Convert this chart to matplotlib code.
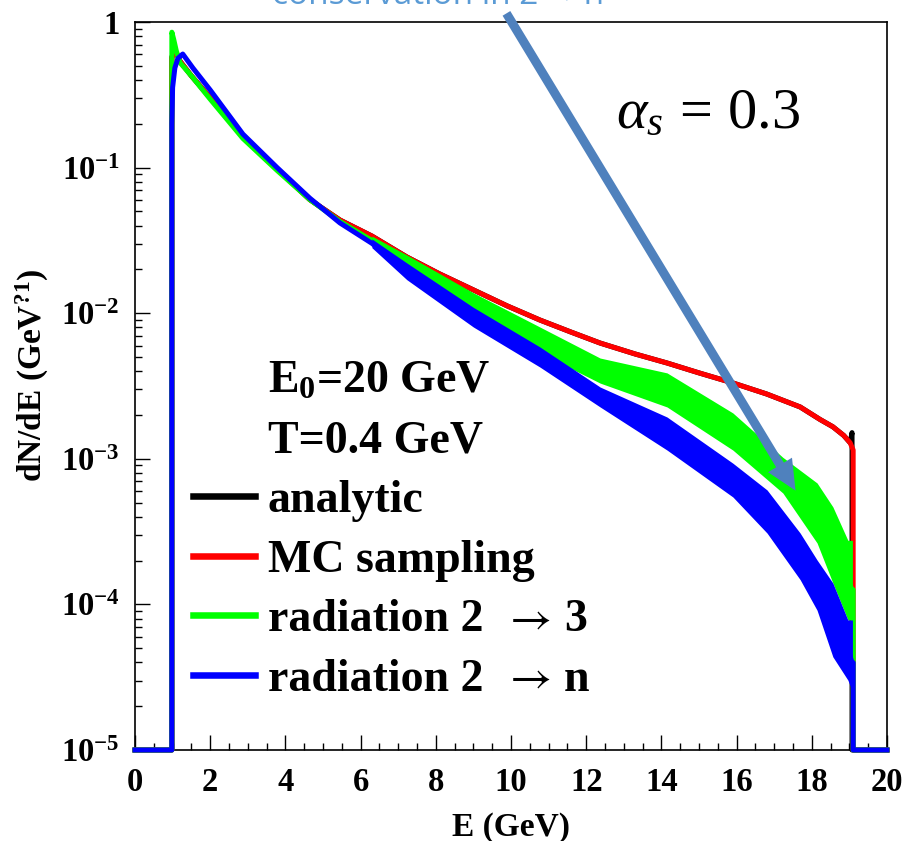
import matplotlib
matplotlib.use('Agg')
import matplotlib.pyplot as plt
import numpy as np
from matplotlib.lines import Line2D
from matplotlib.patches import FancyArrowPatch
from matplotlib.ticker import MultipleLocator, LogLocator, NullFormatter
from matplotlib.font_manager import FontProperties

plt.rcParams['mathtext.fontset'] = 'custom'
plt.rcParams['mathtext.rm'] = 'Liberation Serif'
plt.rcParams['mathtext.it'] = 'Liberation Serif:italic'
plt.rcParams['mathtext.bf'] = 'Liberation Serif:bold'
plt.rcParams['mathtext.fallback'] = 'stix'
plt.rcParams['font.family'] = ['Liberation Serif', 'DejaVu Serif']

# ---------------- data (log10 of dN/dE) ----------------
E_red = [0, 0.98, 0.98, 1.06, 1.2, 1.5, 2.0, 2.87, 3.78, 4.65, 5.45, 6.3, 7.23, 8.1, 9.0,
         9.9, 10.77, 11.6, 12.37, 13.3, 14.15, 15.0, 15.9, 16.8, 17.69, 18.22, 18.56,
         18.85, 19.02, 19.1, 19.1, 20]
red_log10 = [-5, -5, -0.25, -0.19, -0.27, -0.37, -0.52, -0.79, -1.01, -1.22, -1.36, -1.47,
             -1.614, -1.73, -1.84, -1.95, -2.047, -2.13, -2.205, -2.28, -2.342, -2.41,
             -2.479, -2.555, -2.644, -2.73, -2.78, -2.84, -2.89, -2.94, -5, -5]

E_analytic = [0, 0.98, 0.98, 1.06, 1.2, 1.5, 2.0, 2.87, 3.78, 4.65, 5.45, 6.3, 7.23, 8.1, 9.0,
              9.9, 10.77, 11.6, 12.37, 13.3, 14.15, 15.0, 15.9, 16.8, 17.69, 18.22, 18.56,
              18.85, 19.02, 19.07, 19.07, 20]
analytic_log10 = [-5, -5, -0.24, -0.19, -0.27, -0.37, -0.52, -0.79, -1.01, -1.22, -1.36,
                  -1.47, -1.614, -1.73, -1.84, -1.95, -2.047, -2.13, -2.205, -2.28, -2.342,
                  -2.41, -2.479, -2.555, -2.644, -2.73, -2.78, -2.84, -2.89, -2.82, -5, -5]

E_green = [0, 0.98, 0.98, 1.03, 1.1, 1.2, 1.5, 2.0, 2.87, 3.78, 4.65, 5.45, 6.3, 7.23, 8.1,
           9.0, 9.9, 10.77, 11.6, 12.37, 13.3, 14.15, 15.0, 15.9, 16.6, 17.23, 17.7, 18.14,
           18.56, 18.96, 19.07, 19.1, 19.1, 20]
green_log10 = [-5, -5, -0.07, -0.12, -0.2, -0.28, -0.37, -0.53, -0.8, -1.02, -1.22, -1.37,
               -1.50, -1.66, -1.80, -1.945, -2.06, -2.185, -2.27, -2.39, -2.45, -2.53, -2.66,
               -2.81, -2.96, -3.11, -3.2, -3.37, -3.59, -3.83, -3.9, -3.9, -5, -5]
E_green_band = [6.3, 7.23, 9.0, 10.77, 12.37, 14.15, 15.9, 17.23, 18.14, 18.56, 18.96, 19.08]
green_hi_log10 = [-1.47, -1.60, -1.86, -2.095, -2.308, -2.41, -2.685, -2.99, -3.166, -3.33,
                  -3.56, -3.56]
green_lo_log10 = [-1.53, -1.72, -2.03, -2.273, -2.48, -2.644, -2.94, -3.235, -3.578, -3.853,
                  -4.107, -4.107]

E_blue = [0, 0.98, 0.98, 1.0, 1.06, 1.14, 1.27, 1.54, 2.0, 2.87, 3.78, 4.65, 5.45, 6.3, 7.23,
          8.1, 9.0, 9.9, 10.77, 11.6, 12.37, 13.3, 14.15, 15.0, 15.9, 16.81, 17.69, 18.14,
          18.56, 18.96, 19.07, 19.1, 19.1, 20]
blue_log10 = [-5, -5, -0.7, -0.45, -0.316, -0.25, -0.22, -0.316, -0.467, -0.77, -1.0, -1.21,
              -1.38, -1.52, -1.71, -1.86, -2.03, -2.15, -2.30, -2.42, -2.575, -2.69, -2.83,
              -2.98, -3.146, -3.36, -3.67, -3.87, -4.1, -4.31, -4.4, -4.4, -5, -5]
E_blue_band = [6.3, 7.23, 9.0, 10.77, 12.37, 14.15, 15.9, 16.81, 17.69, 18.14, 18.56, 18.96,
               19.08]
blue_hi_log10 = [-1.49, -1.655, -1.96, -2.232, -2.507, -2.713, -3.03, -3.214, -3.51, -3.695,
                 -3.853, -4.107, -4.107]
blue_lo_log10 = [-1.55, -1.77, -2.095, -2.37, -2.644, -2.94, -3.262, -3.51, -3.83, -4.04,
                 -4.36, -4.52, -4.6]

x_ticks = [0, 2, 4, 6, 8, 10, 12, 14, 16, 18, 20]
x_tick_labels = ['0', '2', '4', '6', '8', '10', '12', '14', '16', '18', '20']
y_ticks = [1e-5, 1e-4, 1e-3, 1e-2, 1e-1, 1]
y_tick_labels = [r'$\mathbf{10^{-5}}$', r'$\mathbf{10^{-4}}$', r'$\mathbf{10^{-3}}$',
                 r'$\mathbf{10^{-2}}$', r'$\mathbf{10^{-1}}$', '1']

# legend labels; the "→ 3" / "→ n" endings are drawn next to the last two entries
legend_labels = [r'E$_\mathbf{0}$=20 GeV', 'T=0.4 GeV', 'analytic', 'MC sampling',
                 'radiation 2', 'radiation 2']
label_endings = ['3', 'n']
arrow_char = '→'

# ---------------- figure ----------------
W, H = 908, 841
fig = plt.figure(figsize=(W / 100, H / 100), dpi=100)
ax = fig.add_axes([135 / W, 91 / H, 752 / W, 728 / H])

def p(v):
    return 10.0 ** np.asarray(v)

lw = 3.6
ax.plot(E_analytic, p(analytic_log10), color='black', lw=lw, clip_on=False, zorder=2)
ax.plot(E_red, p(red_log10), color='#ff0000', lw=lw, clip_on=False, zorder=3)
ax.fill_between(E_green_band, p(green_lo_log10), p(green_hi_log10), color='#00ff00',
                lw=0, zorder=4)
ax.plot(E_green, p(green_log10), color='#00ff00', lw=lw, clip_on=False, zorder=4)
ax.fill_between(E_blue_band, p(blue_lo_log10), p(blue_hi_log10), color='#0000ff',
                lw=0, zorder=5)
ax.plot(E_blue, p(blue_log10), color='#0000ff', lw=lw, clip_on=False, zorder=5)

ax.set_yscale('log')
ax.set_xlim(0, 20)
ax.set_ylim(1e-5, 1)

ax.set_xticks(x_ticks)
ax.set_xticklabels(x_tick_labels, fontsize=23.5, fontweight='bold')
ax.xaxis.set_minor_locator(MultipleLocator(0.5))
ax.set_yticks(y_ticks)
ax.set_yticklabels(y_tick_labels, fontsize=23.5, fontweight='bold')
ax.yaxis.set_minor_locator(LogLocator(base=10, subs=np.arange(2, 10)))
ax.yaxis.set_minor_formatter(NullFormatter())

ax.tick_params(which='major', direction='in', length=10.8, width=1, top=False, right=False)
ax.tick_params(which='minor', direction='in', length=5, width=1, top=False, right=False)
ax.tick_params(axis='x', which='major', pad=12)
ax.tick_params(axis='y', which='major', pad=11)
for s in ax.spines.values():
    s.set_linewidth(1.2)

ax.set_xlabel('E (GeV)', fontsize=24, fontweight='bold', labelpad=10)
ax.set_ylabel(r'dN/dE (GeV$^{\mathbf{?1}}$)', fontsize=24, fontweight='bold')
ax.yaxis.set_label_coords(-0.112, 0.515)

# legend
handles = [Line2D([], [], color='none'), Line2D([], [], color='none'),
           Line2D([], [], color='black', lw=4.7), Line2D([], [], color='#ff0000', lw=4.7),
           Line2D([], [], color='#00ff00', lw=4.7), Line2D([], [], color='#0000ff', lw=4.7)]
prop = FontProperties(family=['Liberation Serif', 'DejaVu Serif'], weight='bold', size=33)
leg = ax.legend(handles, legend_labels, prop=prop, frameon=False, loc='upper left',
                bbox_to_anchor=(193 / W, 1 - 361 / H), bbox_transform=fig.transFigure,
                borderaxespad=0, borderpad=0, handlelength=1.35, handletextpad=0.28,
                labelspacing=0.38)

# "→ 3" and "→ n" after the last two legend entries (symbol-font arrow, as in the original)
fig.canvas.draw()
renderer = fig.canvas.get_renderer()
_, _, descent = renderer.get_text_width_height_descent('lp', prop, ismath=False)
for t, ending in zip(leg.get_texts()[4:], label_endings):
    bb = t.get_window_extent(renderer)
    base = (bb.y0 + descent) / H
    fig.text((bb.x0 + 263) / W, base, arrow_char, fontsize=33,
             family='STIXGeneral', ha='center', va='baseline')
    fig.text((bb.x0 + 296) / W, base, ending, fontproperties=prop,
             ha='left', va='baseline')

# alpha_s annotation
fig.text(616 / W, 1 - 128 / H, r'$\alpha_{s}\,=\,0.3$', fontsize=42, ha='left',
         va='baseline')

# cut-off title text at top
fig.text(438 / W, 1 - 4 / H, 'conservation in 2 → n', fontsize=24, color='#5B9BD5',
         ha='center', va='baseline', family=['Open Sans', 'DejaVu Sans'])

# arrow
arrow = FancyArrowPatch((505 / W, 1 - 11 / H), (797 / W, 1 - 493 / H),
                        transform=fig.transFigure,
                        arrowstyle='simple,head_length=1.5,head_width=1.4,tail_width=0.45',
                        mutation_scale=14.4, color='#4F81BD', lw=0, zorder=10)
fig.patches.append(arrow)

fig.savefig('out.png', dpi=100)
